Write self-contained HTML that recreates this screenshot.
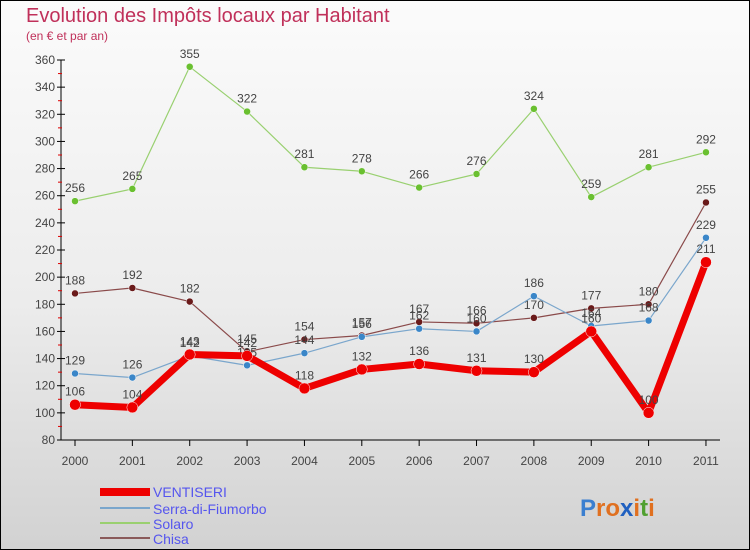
<!DOCTYPE html>
<html><head><meta charset="utf-8"><style>
body{margin:0;width:750px;height:550px;overflow:hidden;font-family:"Liberation Sans",sans-serif}
#wrap{position:absolute;left:0;top:0;width:748px;height:548px;border:1px solid #000;background:linear-gradient(#fbfbfb 0%,#ececec 55%,#d2d2d2 100%)}
</style></head><body>
<div id="wrap">
<svg id="svg" width="750" height="550" style="position:absolute;left:-1px;top:-1px">
<text x="26" y="22" font-size="20" fill="#c0305a">Evolution des Impôts locaux par Habitant</text>
<text x="26" y="40" font-size="12" fill="#c0305a">(en € et par an)</text>
<g id="axes"></g><g id="series"></g>
<g>
<rect x="100" y="488" width="50" height="8" fill="#ee0000"/>
<text x="153" y="497" font-size="14" fill="#5555ee">VENTISERI</text>
<rect x="100" y="507" width="50" height="2" fill="#7aa6cc"/>
<text x="153" y="514" font-size="14" fill="#5555ee">Serra-di-Fiumorbo</text>
<rect x="100" y="522" width="50" height="2" fill="#9ad070"/>
<text x="153" y="529" font-size="14" fill="#5555ee">Solaro</text>
<rect x="100" y="537" width="50" height="2" fill="#8a5a5a"/>
<text x="153" y="544" font-size="14" fill="#5555ee">Chisa</text>
</g>
<text x="580" y="516" font-size="24" font-weight="bold"><tspan fill="#3b7fd0">P</tspan><tspan fill="#e07020">r</tspan><tspan fill="#e07020">o</tspan><tspan fill="#2060c0">x</tspan><tspan fill="#e07020">i</tspan><tspan fill="#50a030">t</tspan><tspan fill="#e07020">i</tspan></text>
</svg>
</div>
<script>
const years=[2000,2001,2002,2003,2004,2005,2006,2007,2008,2009,2010,2011];
const ventiseri=[106,104,143,142,118,132,136,131,130,160,100,211];
const serra=[129,126,142,135,144,156,162,160,186,164,168,229];
const solaro=[256,265,355,322,281,278,266,276,324,259,281,292];
const chisa=[188,192,182,145,154,157,167,166,170,177,180,255];
const yTicks=[80,100,120,140,160,180,200,220,240,260,280,300,320,340,360];
const NS="http://www.w3.org/2000/svg";
const x=i=>75+i*57.36, y=v=>440-(v-80)*380/280;
function mk(t,a,p){const e=document.createElementNS(NS,t);for(const k in a)e.setAttribute(k,a[k]);p.appendChild(e);return e;}
const ax=document.getElementById('axes');
let l=mk('line',{x1:61,y1:60,x2:61,y2:440,stroke:'#000'},ax);


l=mk('line',{x1:61,y1:440,x2:720,y2:440,stroke:'#000'},ax);


yTicks.forEach(v=>{mk('line',{x1:57,y1:y(v),x2:65,y2:y(v),stroke:'#000'},ax);
 if(v<360) mk('line',{x1:58,y1:y(v+10),x2:62,y2:y(v+10),stroke:'#d00'},ax);
 const t=mk('text',{x:55,y:y(v)+4,'font-size':12,fill:'#444','text-anchor':'end'},ax);t.textContent=v;
 
 });
years.forEach((yr,i)=>{mk('line',{x1:x(i),y1:440,x2:x(i),y2:446,stroke:'#000'},ax);
 const t=mk('text',{x:x(i),y:465,'font-size':12,fill:'#444','text-anchor':'middle'},ax);t.textContent=yr;
 
 });
const sg=document.getElementById('series');
function series(d,name,col,dot,w,r){const g=mk('g',{},sg);
 
 
 mk('polyline',{points:d.map((v,i)=>x(i)+','+y(v)).join(' '),fill:'none',stroke:col,'stroke-width':w,'stroke-linejoin':'round'},g);
 d.forEach((v,i)=>{const c=mk('circle',{cx:x(i),cy:y(v),r:r,fill:dot,stroke:'#fff','stroke-width':0.5},g);
  
  
  const t=mk('text',{x:x(i),y:y(v)-9,'font-size':12,fill:'#444','text-anchor':'middle'},g);t.textContent=v;
  
  });}
series(chisa,'chisa','#8a4a4a','#6a1a1a',1.2,3.5);
series(solaro,'solaro','#99d070','#6ac030',1.2,3.5);
series(serra,'serra','#7aa6cc','#3a86c8',1.2,3.5);
series(ventiseri,'ventiseri','#ee0000','#ee0000',7,5.5);
</script>
</body></html>
